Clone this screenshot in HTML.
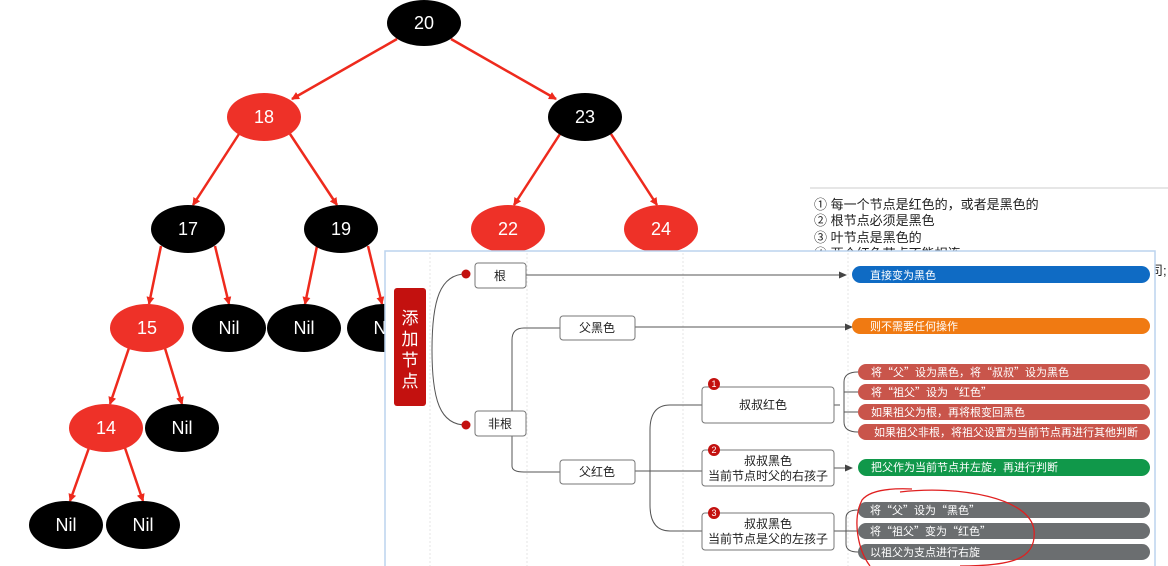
<!DOCTYPE html>
<html><head><meta charset="utf-8"><style>
html,body{margin:0;padding:0;background:#fff;}
svg{display:block;font-family:"Liberation Sans","Noto Sans CJK SC",sans-serif;}
.cj{font-family:"Noto Sans CJK SC",sans-serif;}
</style></head><body>
<svg width="1168" height="566" viewBox="0 0 1168 566" xmlns="http://www.w3.org/2000/svg">
<defs>
<marker id="ra" markerWidth="8" markerHeight="8" refX="7" refY="4" orient="auto" markerUnits="userSpaceOnUse"><path d="M0,0 L8,4 L0,8 z" fill="#ee2a1d"/></marker>
<marker id="ga" markerWidth="8" markerHeight="8" refX="7" refY="4" orient="auto" markerUnits="userSpaceOnUse"><path d="M0,0.5 L8,4 L0,7.5 z" fill="#444"/></marker>
</defs>
<g stroke="#ee2a1d" stroke-width="2.5" fill="none" marker-end="url(#ra)">
<line x1="397" y1="39" x2="292" y2="99"/>
<line x1="451" y1="39" x2="556" y2="99"/>
<line x1="239" y1="134" x2="193" y2="205"/>
<line x1="290" y1="134" x2="337" y2="205"/>
<line x1="560" y1="134" x2="514" y2="205"/>
<line x1="611" y1="134" x2="657" y2="205"/>
<line x1="161" y1="246" x2="149" y2="304"/>
<line x1="215" y1="246" x2="229" y2="304"/>
<line x1="317" y1="246" x2="305" y2="304"/>
<line x1="368" y1="246" x2="382" y2="304"/>
<line x1="130" y1="345" x2="110" y2="404"/>
<line x1="164" y1="345" x2="182" y2="404"/>
<line x1="90" y1="445" x2="70" y2="501"/>
<line x1="124" y1="445" x2="143" y2="501"/>
</g>
<g font-size="18" text-anchor="middle" fill="#fff">
<ellipse cx="424" cy="23" rx="37" ry="23" fill="#000"/><text x="424" y="29">20</text>
<ellipse cx="264" cy="117" rx="37" ry="24" fill="#ee3128"/><text x="264" y="123">18</text>
<ellipse cx="585" cy="117" rx="37" ry="24" fill="#000"/><text x="585" y="123">23</text>
<ellipse cx="188" cy="229" rx="37" ry="24" fill="#000"/><text x="188" y="235">17</text>
<ellipse cx="341" cy="229" rx="37" ry="24" fill="#000"/><text x="341" y="235">19</text>
<ellipse cx="508" cy="229" rx="37" ry="24" fill="#ee3128"/><text x="508" y="235">22</text>
<ellipse cx="661" cy="229" rx="37" ry="24" fill="#ee3128"/><text x="661" y="235">24</text>
<ellipse cx="147" cy="328" rx="37" ry="24" fill="#ee3128"/><text x="147" y="334">15</text>
<ellipse cx="229" cy="328" rx="37" ry="24" fill="#000"/><text x="229" y="334">Nil</text>
<ellipse cx="304" cy="328" rx="37" ry="24" fill="#000"/><text x="304" y="334">Nil</text>
<ellipse cx="384" cy="328" rx="37" ry="24" fill="#000"/><text x="384" y="334">Nil</text>
<ellipse cx="106" cy="428" rx="37" ry="24" fill="#ee3128"/><text x="106" y="434">14</text>
<ellipse cx="182" cy="428" rx="37" ry="24" fill="#000"/><text x="182" y="434">Nil</text>
<ellipse cx="66" cy="525" rx="37" ry="24" fill="#000"/><text x="66" y="531">Nil</text>
<ellipse cx="143" cy="525" rx="37" ry="24" fill="#000"/><text x="143" y="531">Nil</text>
</g>
<line x1="810" y1="188" x2="1168" y2="188" stroke="#ccc"/>
<g font-size="13" fill="#222">
<text x="814" y="209">① 每一个节点是红色的，或者是黑色的</text>
<text x="814" y="225">② 根节点必须是黑色</text>
<text x="814" y="242">③ 叶节点是黑色的</text>
<text x="814" y="258">④ 两个红色节点不能相连</text>
<text x="1150" y="275">司;</text>
</g>
<rect x="385" y="251" width="770" height="320" fill="#fff" stroke="#bcd3ee" stroke-width="1.5"/>
<g stroke="#e6e6e6" stroke-dasharray="2,2">
<line x1="430" y1="253" x2="430" y2="566"/><line x1="527" y1="253" x2="527" y2="566"/>
<line x1="683" y1="253" x2="683" y2="566"/><line x1="848" y1="253" x2="848" y2="566"/>
</g>
<rect x="394" y="288" width="32" height="118" rx="3" fill="#c3110f"/>
<g font-size="17" fill="#fff" text-anchor="middle">
<text x="410" y="324">添</text><text x="410" y="345">加</text><text x="410" y="366">节</text><text x="410" y="387">点</text>
</g>
<g stroke="#555" stroke-width="1" fill="none">
<path d="M466,274 C440,274 432,300 432,350 C432,400 440,425 466,425"/>
<line x1="526" y1="275" x2="846" y2="275" marker-end="url(#ga)"/>
<path d="M512,411 L512,340 Q512,328 524,328 L560,328"/>
<path d="M512,436 L512,466 Q512,472 524,472 L560,472"/>
<line x1="635" y1="327" x2="852" y2="327" marker-end="url(#ga)"/>
<path d="M702,405 L670,405 Q650,405 650,430 L650,505 Q650,531 670,531 L702,531"/>
<line x1="635" y1="471" x2="702" y2="471"/>
<path d="M834,405 L840,405"/>
<path d="M858,372 Q844,372 844,382 L844,422 Q844,432 858,432"/>
<path d="M844,392 L858,392 M844,412 L858,412"/>
<line x1="834" y1="468" x2="852" y2="468" marker-end="url(#ga)"/>
<path d="M834,531 L858,531"/>
<path d="M858,510 Q846,510 846,518 L846,544 Q846,552 858,552"/>
</g>
<circle cx="466" cy="274" r="4.5" fill="#c3110f"/>
<circle cx="466" cy="425" r="4.5" fill="#c3110f"/>
<g fill="#fff" stroke="#777" stroke-width="1">
<rect x="475" y="263" width="51" height="25" rx="3"/>
<rect x="475" y="411" width="51" height="25" rx="3"/>
<rect x="560" y="316" width="75" height="24" rx="3"/>
<rect x="560" y="460" width="75" height="24" rx="3"/>
<rect x="702" y="387" width="132" height="36" rx="3"/>
<rect x="702" y="450" width="132" height="36" rx="3"/>
<rect x="702" y="513" width="132" height="37" rx="3"/>
</g>
<g font-size="12" fill="#222" text-anchor="middle">
<text x="500" y="280">根</text><text x="500" y="428">非根</text>
<text x="597" y="332">父黑色</text><text x="597" y="476">父红色</text>
<text x="763" y="409">叔叔红色</text>
<text x="768" y="465">叔叔黑色</text><text x="768" y="480">当前节点时父的右孩子</text>
<text x="768" y="528">叔叔黑色</text><text x="768" y="543">当前节点是父的左孩子</text>
</g>
<g fill="#c3110f"><circle cx="714" cy="384" r="6"/><circle cx="714" cy="450" r="6"/><circle cx="714" cy="513" r="6"/></g>
<g font-size="9" fill="#fff" text-anchor="middle"><text x="714" y="387">1</text><text x="714" y="453">2</text><text x="714" y="516">3</text></g>
<rect x="852" y="266" width="298" height="17" rx="8.5" fill="#0f6bc4"/>
<rect x="852" y="318" width="298" height="16" rx="8" fill="#f07a12"/>
<g fill="#c9554b">
<rect x="858" y="364" width="292" height="16" rx="8"/><rect x="858" y="384" width="292" height="16" rx="8"/>
<rect x="858" y="404" width="292" height="16" rx="8"/><rect x="858" y="424" width="292" height="16" rx="8"/>
</g>
<rect x="858" y="459" width="292" height="17" rx="8.5" fill="#10984a"/>
<g fill="#6b6e70">
<rect x="858" y="502" width="292" height="16" rx="8"/><rect x="858" y="523" width="292" height="16" rx="8"/><rect x="858" y="544" width="292" height="16" rx="8"/>
</g>
<g font-size="11" fill="#fff" class="cj">
<text x="870" y="279">直接变为黑色</text>
<text x="870" y="330">则不需要任何操作</text>
<text x="871" y="376">将“父”设为黑色，将“叔叔”设为黑色</text>
<text x="871" y="396">将“祖父”设为“红色”</text>
<text x="871" y="416">如果祖父为根，再将根变回黑色</text>
<text x="874" y="436">如果祖父非根，将祖父设置为当前节点再进行其他判断</text>
<text x="871" y="471">把父作为当前节点并左旋，再进行判断</text>
<text x="870" y="514">将“父”设为“黑色”</text>
<text x="870" y="535">将“祖父”变为“红色”</text>
<text x="870" y="556">以祖父为支点进行右旋</text>
</g>
<path d="M900,492 C960,485 1030,498 1034,530 C1037,560 1010,566 960,566 M870,566 C858,550 852,520 862,500 C870,490 890,488 912,489" stroke="#e02020" stroke-width="1.3" fill="none"/>
</svg>
</body></html>
